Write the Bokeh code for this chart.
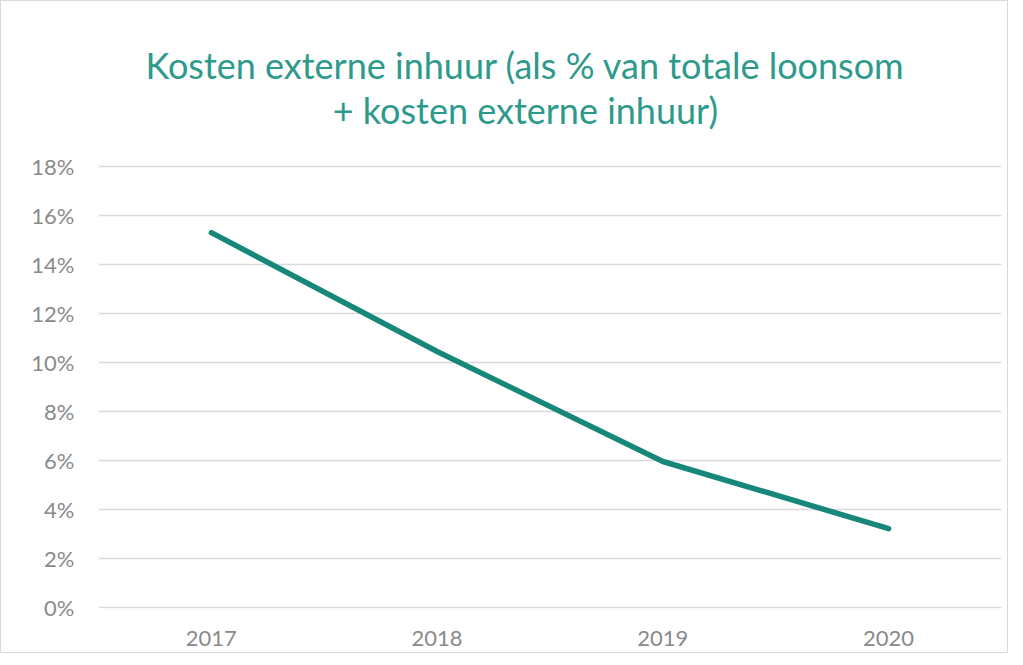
from bokeh.plotting import figure
from bokeh.models import Range1d, FixedTicker
from bokeh.core.properties import value
from bokeh.embed import file_html
from bokeh.resources import INLINE

years = ["2017", "2018", "2019", "2020"]
kosten_pct = [15.3, 10.45, 5.96, 3.22]
y_ticks = [0, 2, 4, 6, 8, 10, 12, 14, 16, 18]
y_labels = {t: f"{t}%" for t in y_ticks}
title_lines = ["Kosten externe inhuur (als % van totale loonsom", "+ kosten externe inhuur)"]

p = figure(
    width=1008, height=653,
    x_range=years, y_range=Range1d(-0.04, 24.368),
    output_backend="svg", toolbar_location=None,
    min_border_left=97, min_border_right=8, min_border_top=9, min_border_bottom=46,
)
p.styles = {"border": "1px solid #d9d9d9"}
p.title = None

# title drawn inside the (extended) plot area, centred like the reference
p.text(x=[1.891, 1.891], y=[22.15, 20.3], text=title_lines,
       text_align="center", text_baseline="alphabetic",
       text_font=value("Lato"), text_font_size=value("36px"), text_color="#2e9a8c")

p.line(x=years, y=kosten_pct, line_color="#17877a", line_width=5.5, line_cap="round", line_join="round")

p.outline_line_color = None
p.background_fill_color = "white"
p.border_fill_color = "white"

p.xgrid.grid_line_color = None
p.ygrid.grid_line_color = "#d9d9d9"
p.ygrid.grid_line_width = 1.5
p.ygrid.bounds = (0, 18)
p.yaxis.ticker = FixedTicker(ticks=y_ticks)
p.yaxis.major_label_overrides = y_labels

for ax in (p.xaxis, p.yaxis):
    ax.axis_line_color = None
    ax.major_tick_line_color = None
    ax.minor_tick_line_color = None
    ax.major_label_text_font = "Lato"
    ax.major_label_text_font_size = "22px"
    ax.major_label_text_color = "#8a8a8a"
p.xaxis.major_label_standoff = 16
p.yaxis.major_label_standoff = 18
p.x_range.range_padding = 0

open("out.html", "w").write(file_html(p, INLINE))
